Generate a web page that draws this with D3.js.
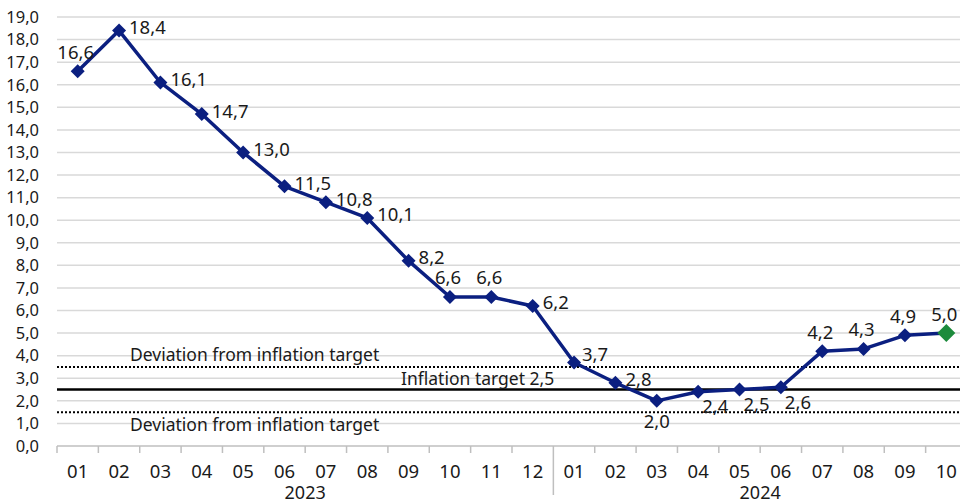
<!DOCTYPE html>
<html>
<head>
<meta charset="utf-8">
<script src="https://cdn.jsdelivr.net/npm/d3@7"></script>
<style>
  body { margin: 0; background: #fff; }
  svg { display: block; font-family: "Noto Sans", sans-serif; }
</style>
</head>
<body>
<svg id="chart"></svg>
<script>
var months = ["01","02","03","04","05","06","07","08","09","10","11","12",
              "01","02","03","04","05","06","07","08","09","10"]
var years = ["2023", "2024"]
var yearCounts = [12, 10]
var values = [16.6, 18.4, 16.1, 14.7, 13.0, 11.5, 10.8, 10.1, 8.2, 6.6, 6.6, 6.2,
              3.7, 2.8, 2.0, 2.4, 2.5, 2.6, 4.2, 4.3, 4.9, 5.0]
// where each value label sits relative to its marker
var labelPlace = ["above","right","right","right","right","right","right","right","right","above","above","right",
                  "rightup","right","below","rightdown","rightdown","rightdown","above","above","above","above"]
var target = 2.5
var deviation = [3.5, 1.5]
var yTicks = d3.range(0, 20)

var width = 960, height = 504
var margin = { top: 17, right: -7, bottom: 58, left: 57 }

var svg = d3.select("#chart").attr("width", width).attr("height", height)

var x = d3.scaleBand()
  .domain(d3.range(months.length))
  .range([margin.left, width - margin.right])

var y = d3.scaleLinear()
  .domain([0, 19])
  .range([height - margin.bottom, margin.top])

var fmt = function(v) { return d3.format(".1f")(v).replace(".", ",") }

// gridlines
svg.append("g")
  .selectAll("line")
  .data(yTicks.slice(1))
  .enter()
  .append("line")
  .attr("x1", margin.left)
  .attr("x2", width)
  .attr("y1", function(d) { return y(d) })
  .attr("y2", function(d) { return y(d) })
  .attr("stroke", "#d9d9d9")
  .attr("stroke-width", 1.5)

// y axis labels
svg.append("g")
  .selectAll("text")
  .data(yTicks)
  .enter()
  .append("text")
  .attr("x", 39)
  .attr("y", function(d) { return y(d) })
  .attr("dy", "0.35em")
  .attr("text-anchor", "end")
  .attr("font-size", 16.5)
  .attr("fill", "#1a1a1a")
  .text(fmt)

// x axis
var xAxis = svg.append("g")
xAxis.append("line")
  .attr("x1", margin.left).attr("x2", width)
  .attr("y1", y(0)).attr("y2", y(0))
  .attr("stroke", "#bfbfbf").attr("stroke-width", 1.5)

xAxis.selectAll(".tick")
  .data(d3.range(months.length))
  .enter()
  .append("line")
  .attr("x1", function(d) { return x(d) })
  .attr("x2", function(d) { return x(d) })
  .attr("y1", y(0))
  .attr("y2", function(d) { return d === yearCounts[0] ? y(0) + 49 : y(0) + 7 })
  .attr("stroke", "#bfbfbf")
  .attr("stroke-width", 1.5)

xAxis.selectAll(".month")
  .data(months)
  .enter()
  .append("text")
  .attr("x", function(d, i) { return x(i) + x.bandwidth() / 2 })
  .attr("y", y(0) + 26)
  .attr("dy", "0.35em")
  .attr("text-anchor", "middle")
  .attr("font-size", 18.5)
  .attr("fill", "#1a1a1a")
  .text(function(d) { return d })

var start = 0
years.forEach(function(yr, i) {
  var mid = (x(start) + x(start + yearCounts[i] - 1) + x.bandwidth()) / 2
  xAxis.append("text")
    .attr("x", mid)
    .attr("y", y(0) + 47)
    .attr("dy", "0.35em")
    .attr("text-anchor", "middle")
    .attr("font-size", 18)
    .attr("fill", "#1a1a1a")
    .text(yr)
  start += yearCounts[i]
})

// target lines
svg.append("line")
  .attr("x1", margin.left).attr("x2", width)
  .attr("y1", y(target)).attr("y2", y(target))
  .attr("stroke", "#000").attr("stroke-width", 2.5)

svg.selectAll(".dev")
  .data(deviation)
  .enter()
  .append("line")
  .attr("x1", margin.left).attr("x2", width)
  .attr("y1", function(d) { return y(d) })
  .attr("y2", function(d) { return y(d) })
  .attr("stroke", "#000")
  .attr("stroke-width", 2)
  .attr("stroke-dasharray", "2,2")

svg.append("text")
  .attr("x", 130).attr("y", y(deviation[0]) - 12)
  .attr("dy", "0.35em").attr("font-size", 17.5).attr("fill", "#1a1a1a")
  .text("Deviation from inflation target")
svg.append("text")
  .attr("x", 130).attr("y", y(deviation[1]) + 13)
  .attr("dy", "0.35em").attr("font-size", 17.5).attr("fill", "#1a1a1a")
  .text("Deviation from inflation target")
svg.append("text")
  .attr("x", 401).attr("y", y(target) - 11)
  .attr("dy", "0.35em").attr("font-size", 17.5).attr("fill", "#1a1a1a")
  .text("Inflation target " + String(target).replace(".", ","))

// series line
var cx = function(i) { return x(i) + x.bandwidth() / 2 }
var line = d3.line()
  .x(function(d, i) { return cx(i) })
  .y(function(d) { return y(d) })

svg.append("path")
  .attr("d", line(values))
  .attr("fill", "none")
  .attr("stroke", "#0b1f80")
  .attr("stroke-width", 3.5)
  .attr("stroke-linejoin", "round")

var diamond = "M0,-7L7,0L0,7L-7,0Z"
svg.selectAll(".pt")
  .data(values)
  .enter()
  .append("path")
  .attr("d", function(d, i) { return i === values.length - 1 ? "M0,-9L9,0L0,9L-9,0Z" : diamond })
  .attr("transform", function(d, i) { return "translate(" + cx(i) + "," + y(d) + ")" })
  .attr("fill", function(d, i) { return i === values.length - 1 ? "#1d8b3c" : "#0b1f80" })

// value labels
var place = {
  above:     { dx: -2, dy: -19, anchor: "middle" },
  right:     { dx: 10, dy: -3,  anchor: "start" },
  rightup:   { dx: 8,  dy: -8,  anchor: "start" },
  below:     { dx: 0,  dy: 21,  anchor: "middle" },
  rightdown: { dx: 4,  dy: 15,  anchor: "start" }
}
svg.selectAll(".lbl")
  .data(values)
  .enter()
  .append("text")
  .attr("x", function(d, i) { return cx(i) + place[labelPlace[i]].dx })
  .attr("y", function(d, i) { return y(d) + place[labelPlace[i]].dy })
  .attr("dy", "0.35em")
  .attr("text-anchor", function(d, i) { return place[labelPlace[i]].anchor })
  .attr("font-size", 18.5)
  .attr("fill", "#1a1a1a")
  .text(fmt)
</script>
</body>
</html>
